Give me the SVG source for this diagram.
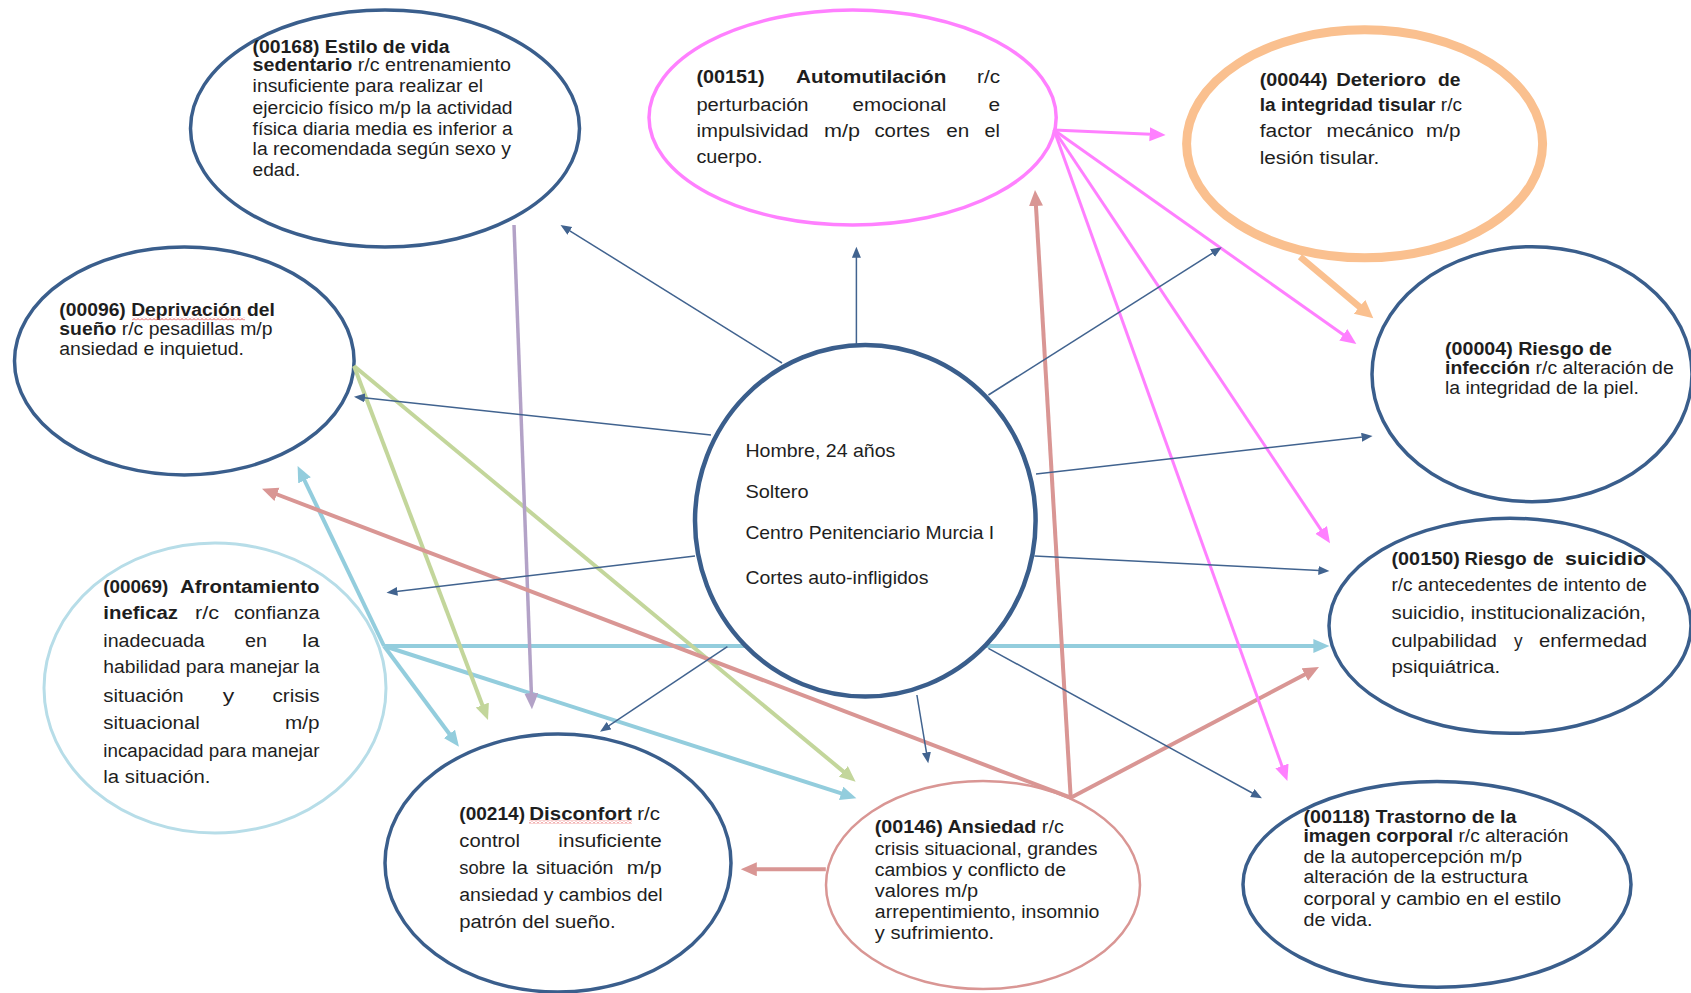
<svg xmlns="http://www.w3.org/2000/svg" width="1691" height="993" viewBox="0 0 1691 993">
<defs>
<style>
text{font-family:"Liberation Sans",Arial,sans-serif;font-size:18px;fill:#1e1e1e}
.b{font-weight:bold}
.c{font-size:19px}
.nv{fill:#fff;stroke:#3A5E8C;stroke-width:3.5}
.ln{fill:none;stroke-linecap:butt}
.navy{stroke:#41638F;stroke-width:1.5;marker-end:url(#mN)}
.blue{stroke:#93CDDD;stroke-width:4;marker-end:url(#mB)}
.green{stroke:#C3D69B;stroke-width:4;marker-end:url(#mG)}
.purple{stroke:#B3A2C7;stroke-width:3.5;marker-end:url(#mP)}
.rose{stroke:#D99694;stroke-width:4;marker-end:url(#mR)}
.pink{stroke:#FF80FF;stroke-width:3;marker-end:url(#mK)}
.orange{stroke:#FAC08F;stroke-width:6.5;marker-end:url(#mO)}
</style>
<marker id="mN" markerUnits="userSpaceOnUse" markerWidth="12" markerHeight="10" refX="1" refY="4.5" orient="auto"><path d="M0,0 L11,4.5 L0,9 z" fill="#41638F"/></marker>
<marker id="mB" markerUnits="userSpaceOnUse" markerWidth="17" markerHeight="15" refX="1" refY="7" orient="auto"><path d="M0,0 L16,7 L0,14 z" fill="#93CDDD"/></marker>
<marker id="mG" markerUnits="userSpaceOnUse" markerWidth="17" markerHeight="15" refX="1" refY="7" orient="auto"><path d="M0,0 L16,7 L0,14 z" fill="#C3D69B"/></marker>
<marker id="mP" markerUnits="userSpaceOnUse" markerWidth="17" markerHeight="15" refX="1" refY="7" orient="auto"><path d="M0,0 L16,7 L0,14 z" fill="#B3A2C7"/></marker>
<marker id="mR" markerUnits="userSpaceOnUse" markerWidth="17" markerHeight="15" refX="1" refY="7" orient="auto"><path d="M0,0 L16,7 L0,14 z" fill="#D99694"/></marker>
<marker id="mK" markerUnits="userSpaceOnUse" markerWidth="17" markerHeight="15" refX="1" refY="7" orient="auto"><path d="M0,0 L16,7 L0,14 z" fill="#FF80FF"/></marker>
<marker id="mO" markerUnits="userSpaceOnUse" markerWidth="19" markerHeight="19" refX="1" refY="9" orient="auto"><path d="M0,0 L18,9 L0,18 z" fill="#FAC08F"/></marker>
<pattern id="wavy" width="4" height="3" patternUnits="userSpaceOnUse"><path d="M0,2.5 L2,0.5 L4,2.5" fill="none" stroke="#E03A3A" stroke-width="0.9"/></pattern>
</defs>
<rect width="1691" height="993" fill="#fff"/>

<g id="n00168">
<ellipse class="nv" cx="385" cy="128.5" rx="194.5" ry="118.5"/>
<text x="252.6" y="53" class="b" textLength="197" lengthAdjust="spacingAndGlyphs">(00168) Estilo de vida</text>
<text x="252.6" y="71" textLength="258.3" lengthAdjust="spacingAndGlyphs"><tspan class="b">sedentario</tspan> r/c entrenamiento</text>
<text x="252.6" y="92" textLength="230.4" lengthAdjust="spacingAndGlyphs">insuficiente para realizar el</text>
<text x="252.6" y="114" textLength="260" lengthAdjust="spacingAndGlyphs">ejercicio físico m/p la actividad</text>
<text x="252.6" y="134.5" textLength="260" lengthAdjust="spacingAndGlyphs">física diaria media es inferior a</text>
<text x="252.6" y="155" textLength="258.3" lengthAdjust="spacingAndGlyphs">la recomendada según sexo y</text>
<text x="252.6" y="175.5" textLength="47.8" lengthAdjust="spacingAndGlyphs">edad.</text>
</g>

<g id="n00151">
<ellipse cx="852.6" cy="117.5" rx="203.6" ry="107.5" fill="#fff" stroke="#FF80FF" stroke-width="3.5"/>
<text x="696.4" y="83" class="b" textLength="68.2" lengthAdjust="spacingAndGlyphs">(00151)</text>
<text x="796" y="83" class="b" textLength="150.3" lengthAdjust="spacingAndGlyphs">Automutilación</text>
<text x="977" y="83" textLength="23" lengthAdjust="spacingAndGlyphs">r/c</text>
<text x="696.4" y="110.5" textLength="112.2" lengthAdjust="spacingAndGlyphs">perturbación</text>
<text x="852.6" y="110.5" textLength="93.7" lengthAdjust="spacingAndGlyphs">emocional</text>
<text x="988.4" y="110.5" textLength="11.6" lengthAdjust="spacingAndGlyphs">e</text>
<text x="696.4" y="137" textLength="112.2" lengthAdjust="spacingAndGlyphs">impulsividad</text>
<text x="824" y="137" textLength="36" lengthAdjust="spacingAndGlyphs">m/p</text>
<text x="874.4" y="137" textLength="55.5" lengthAdjust="spacingAndGlyphs">cortes</text>
<text x="946.3" y="137" textLength="23" lengthAdjust="spacingAndGlyphs">en</text>
<text x="984.6" y="137" textLength="15.4" lengthAdjust="spacingAndGlyphs">el</text>
<text x="696.4" y="163" textLength="66" lengthAdjust="spacingAndGlyphs">cuerpo.</text>
</g>

<g id="n00044">
<ellipse cx="1364.6" cy="143.8" rx="178" ry="114" fill="#fff" stroke="#FAC08F" stroke-width="9"/>
<text x="1259.7" y="85.5" class="b" textLength="68" lengthAdjust="spacingAndGlyphs">(00044)</text>
<text x="1336.3" y="85.5" class="b" textLength="89.7" lengthAdjust="spacingAndGlyphs">Deterioro</text>
<text x="1438" y="85.5" class="b" textLength="22.5" lengthAdjust="spacingAndGlyphs">de</text>
<text x="1259.7" y="110.5" textLength="202.3" lengthAdjust="spacingAndGlyphs"><tspan class="b">la integridad tisular</tspan> r/c</text>
<text x="1259.7" y="136.5" textLength="52.4" lengthAdjust="spacingAndGlyphs">factor</text>
<text x="1326.6" y="136.5" textLength="87.3" lengthAdjust="spacingAndGlyphs">mecánico</text>
<text x="1426" y="136.5" textLength="34.5" lengthAdjust="spacingAndGlyphs">m/p</text>
<text x="1259.7" y="163.5" textLength="119.7" lengthAdjust="spacingAndGlyphs">lesión tisular.</text>
</g>

<g id="n00004">
<ellipse class="nv" cx="1532" cy="374.2" rx="160" ry="127.5"/>
<text x="1445" y="355" class="b" textLength="167" lengthAdjust="spacingAndGlyphs">(00004) Riesgo de</text>
<text x="1445" y="374" textLength="228.7" lengthAdjust="spacingAndGlyphs"><tspan class="b">infección</tspan> r/c alteración de</text>
<text x="1445" y="394" textLength="194" lengthAdjust="spacingAndGlyphs">la integridad de la piel.</text>
</g>

<g id="n00096">
<ellipse class="nv" cx="184.3" cy="361" rx="169.8" ry="113.9"/>
<text x="59.3" y="316" class="b" textLength="215.5" lengthAdjust="spacingAndGlyphs">(00096) Deprivación del</text>
<rect x="132" y="317.5" width="113" height="3" fill="url(#wavy)"/>
<text x="59.3" y="335" textLength="213.2" lengthAdjust="spacingAndGlyphs"><tspan class="b">sueño</tspan> r/c pesadillas m/p</text>
<text x="59.3" y="355" textLength="184.7" lengthAdjust="spacingAndGlyphs">ansiedad e inquietud.</text>
</g>

<g id="n00069">
<ellipse cx="215" cy="688" rx="171" ry="145" fill="#fff" stroke="#B7DDE8" stroke-width="3"/>
<text x="103.3" y="593" class="b" textLength="65" lengthAdjust="spacingAndGlyphs">(00069)</text>
<text x="180" y="593" class="b" textLength="139.5" lengthAdjust="spacingAndGlyphs">Afrontamiento</text>
<text x="103.3" y="619" class="b" textLength="74.7" lengthAdjust="spacingAndGlyphs">ineficaz</text>
<text x="195" y="619" textLength="24" lengthAdjust="spacingAndGlyphs">r/c</text>
<text x="234" y="619" textLength="85.5" lengthAdjust="spacingAndGlyphs">confianza</text>
<text x="103.3" y="647" textLength="101.4" lengthAdjust="spacingAndGlyphs">inadecuada</text>
<text x="245" y="647" textLength="22" lengthAdjust="spacingAndGlyphs">en</text>
<text x="302.3" y="647" textLength="17.2" lengthAdjust="spacingAndGlyphs">la</text>
<text x="103.3" y="673" textLength="216.2" lengthAdjust="spacingAndGlyphs">habilidad para manejar la</text>
<text x="103.3" y="701.5" textLength="80.4" lengthAdjust="spacingAndGlyphs">situación</text>
<text x="222.7" y="701.5" textLength="11.5" lengthAdjust="spacingAndGlyphs">y</text>
<text x="272.5" y="701.5" textLength="47" lengthAdjust="spacingAndGlyphs">crisis</text>
<text x="103.3" y="729" textLength="96.5" lengthAdjust="spacingAndGlyphs">situacional</text>
<text x="285" y="729" textLength="34.5" lengthAdjust="spacingAndGlyphs">m/p</text>
<text x="103.3" y="757" textLength="216.2" lengthAdjust="spacingAndGlyphs">incapacidad para manejar</text>
<text x="103.3" y="783" textLength="107.2" lengthAdjust="spacingAndGlyphs">la situación.</text>
</g>

<g id="n00214">
<ellipse class="nv" cx="558" cy="863" rx="173" ry="129"/>
<text x="459.3" y="819.5" class="b" textLength="65.7" lengthAdjust="spacingAndGlyphs">(00214)</text>
<text x="529.3" y="819.5" class="b" textLength="102.4" lengthAdjust="spacingAndGlyphs">Disconfort</text>
<rect x="529" y="820.5" width="103" height="3" fill="url(#wavy)"/>
<text x="637.3" y="819.5" textLength="22.7" lengthAdjust="spacingAndGlyphs">r/c</text>
<text x="459.3" y="847" textLength="60.7" lengthAdjust="spacingAndGlyphs">control</text>
<text x="558.3" y="847" textLength="103.4" lengthAdjust="spacingAndGlyphs">insuficiente</text>
<text x="459.3" y="874" textLength="46" lengthAdjust="spacingAndGlyphs">sobre</text>
<text x="512" y="874" textLength="16" lengthAdjust="spacingAndGlyphs">la</text>
<text x="536" y="874" textLength="77.5" lengthAdjust="spacingAndGlyphs">situación</text>
<text x="626.7" y="874" textLength="35" lengthAdjust="spacingAndGlyphs">m/p</text>
<text x="459.3" y="901" textLength="203.4" lengthAdjust="spacingAndGlyphs">ansiedad y cambios del</text>
<text x="459.3" y="928" textLength="156.4" lengthAdjust="spacingAndGlyphs">patrón del sueño.</text>
</g>

<g id="n00146">
<ellipse cx="983" cy="885" rx="157" ry="104" fill="#fff" stroke="#D99694" stroke-width="2.5"/>
<text x="874.8" y="832.5" textLength="189" lengthAdjust="spacingAndGlyphs"><tspan class="b">(00146) Ansiedad</tspan> r/c</text>
<text x="874.8" y="855" textLength="222.7" lengthAdjust="spacingAndGlyphs">crisis situacional, grandes</text>
<text x="874.8" y="875.5" textLength="191.2" lengthAdjust="spacingAndGlyphs">cambios y conflicto de</text>
<text x="874.8" y="896.5" textLength="103.3" lengthAdjust="spacingAndGlyphs">valores m/p</text>
<text x="874.8" y="918" textLength="224.6" lengthAdjust="spacingAndGlyphs">arrepentimiento, insomnio</text>
<text x="874.8" y="939" textLength="119.4" lengthAdjust="spacingAndGlyphs">y sufrimiento.</text>
</g>

<g id="n00150">
<ellipse class="nv" cx="1510" cy="625.8" rx="181" ry="107.5"/>
<text x="1391.5" y="565" class="b" textLength="68.3" lengthAdjust="spacingAndGlyphs">(00150)</text>
<text x="1464.6" y="565" class="b" textLength="62" lengthAdjust="spacingAndGlyphs">Riesgo</text>
<text x="1533" y="565" class="b" textLength="20.7" lengthAdjust="spacingAndGlyphs">de</text>
<text x="1565" y="565" class="b" textLength="81" lengthAdjust="spacingAndGlyphs">suicidio</text>
<text x="1391.5" y="591" textLength="255.4" lengthAdjust="spacingAndGlyphs">r/c antecedentes de intento de</text>
<text x="1391.5" y="618.5" textLength="254.5" lengthAdjust="spacingAndGlyphs">suicidio, institucionalización,</text>
<text x="1391.5" y="646.5" textLength="105.3" lengthAdjust="spacingAndGlyphs">culpabilidad</text>
<text x="1514" y="646.5" textLength="8.6" lengthAdjust="spacingAndGlyphs">y</text>
<text x="1539" y="646.5" textLength="108" lengthAdjust="spacingAndGlyphs">enfermedad</text>
<text x="1391.5" y="673" textLength="108.7" lengthAdjust="spacingAndGlyphs">psiquiátrica.</text>
</g>

<g id="n00118">
<ellipse class="nv" cx="1437" cy="884.4" rx="194" ry="102.8"/>
<text x="1303.5" y="822.5" class="b" textLength="213" lengthAdjust="spacingAndGlyphs">(00118) Trastorno de la</text>
<text x="1303.5" y="841.5" textLength="265" lengthAdjust="spacingAndGlyphs"><tspan class="b">imagen corporal</tspan> r/c alteración</text>
<text x="1303.5" y="862.5" textLength="218.5" lengthAdjust="spacingAndGlyphs">de la autopercepción m/p</text>
<text x="1303.5" y="882.5" textLength="224.3" lengthAdjust="spacingAndGlyphs">alteración de la estructura</text>
<text x="1303.5" y="904.5" textLength="257.5" lengthAdjust="spacingAndGlyphs">corporal y cambio en el estilo</text>
<text x="1303.5" y="925.5" textLength="69" lengthAdjust="spacingAndGlyphs">de vida.</text>
</g>

<g id="connectors">
<path class="ln blue" d="M384,646 L1314.4,646"/>
<path class="ln blue" d="M384,646 L304.1,479.5"/>
<path class="ln blue" d="M384,646 L450,734.7"/>
<path class="ln blue" d="M384,646 L842.1,793.7"/>
<path class="ln green" d="M354,366 L482.7,706"/>
<path class="ln green" d="M354,366 L844.1,772.1"/>
<path class="ln purple" d="M514,225 L531.4,694.3"/>
<path class="ln rose" d="M1070.7,797.7 L276,494"/>
<path class="ln rose" d="M1070.7,797.7 L1035.9,205"/>
<path class="ln rose" d="M1070.7,797.7 L1305.7,674"/>
<path class="ln rose" d="M825.8,869.3 L755.8,869.3"/>
<path class="ln pink" d="M1054,130 L1150.6,134.3"/>
<path class="ln pink" d="M1054,130 L1344.1,335.3"/>
<path class="ln pink" d="M1054,130 L1321.7,530.8"/>
<path class="ln pink" d="M1054,130 L1282.3,766.9"/>
<path class="ln orange" d="M1300,256.7 L1360.3,307.4"/>
<path class="ln navy" d="M782,363 L569,230.3"/>
<path class="ln navy" d="M856.4,345 L856.4,256.7"/>
<path class="ln navy" d="M988.4,395 L1213.3,252.6"/>
<path class="ln navy" d="M1036,474 L1362.6,437.1"/>
<path class="ln navy" d="M1034.4,556 L1319.4,570.5"/>
<path class="ln navy" d="M988.4,648.3 L1253.2,793.5"/>
<path class="ln navy" d="M916.9,695 L926.6,753.4"/>
<path class="ln navy" d="M727.4,646.7 L608.3,726.2"/>
<path class="ln navy" d="M695,556 L396.4,591.5"/>
<path class="ln navy" d="M711,435 L363.9,397.8"/>
</g>

<g id="center">
<ellipse cx="865.3" cy="520.8" rx="170.3" ry="175.8" fill="#fff" stroke="#3A5E8C" stroke-width="4.5"/>
<text x="745.4" y="457" class="c" textLength="150" lengthAdjust="spacingAndGlyphs">Hombre, 24 años</text>
<text x="745.4" y="497.5" class="c" textLength="63.2" lengthAdjust="spacingAndGlyphs">Soltero</text>
<text x="745.4" y="539" class="c" textLength="248.8" lengthAdjust="spacingAndGlyphs">Centro Penitenciario Murcia I</text>
<text x="745.4" y="584" class="c" textLength="183" lengthAdjust="spacingAndGlyphs">Cortes auto-infligidos</text>
</g>
</svg>
